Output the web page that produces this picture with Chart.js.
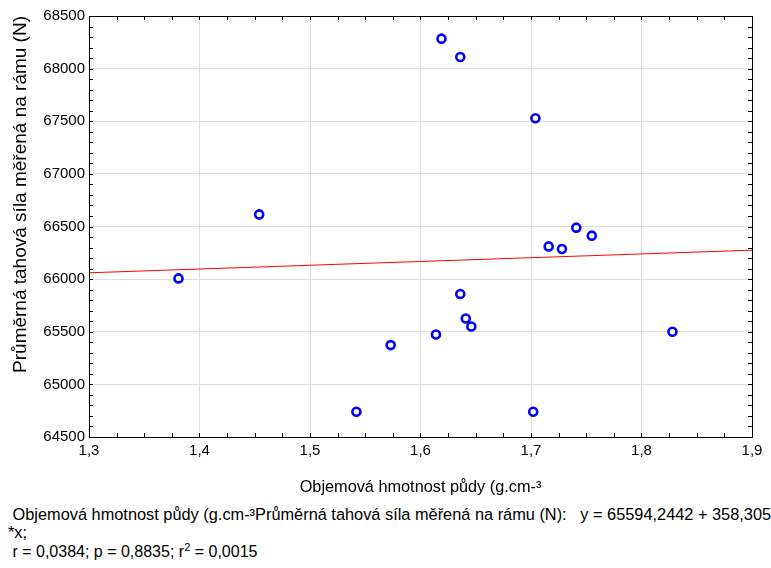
<!DOCTYPE html>
<html>
<head>
<meta charset="utf-8">
<script src="https://cdn.jsdelivr.net/npm/chart.js@4/dist/chart.umd.min.js"></script>
<style>
  body { margin: 0; background: #fff; width: 771px; height: 568px; overflow: hidden; position: relative; }
  #wrap { position: absolute; left: 0; top: 0; width: 771px; height: 500px; }
  .note { position: absolute; left: 8px; white-space: pre; font-family: "Liberation Sans", Arial, sans-serif; font-size: 16.35px; line-height: 19px; color: #000; }
</style>
</head>
<body>
<div id="wrap"><canvas id="chartScatter"></canvas></div>
<div class="note" style="top:505px"> Objemová hmotnost půdy (g.cm-³Průměrná tahová síla měřená na rámu (N):   y = 65594,2442 + 358,305</div>
<div class="note" style="top:523px">*x;</div>
<div class="note" style="top:542px; font-size:16px"> r = 0,0384; p = 0,8835; r<sup style="font-size:11px;line-height:0">2</sup> = 0,0015</div>
<script>
// bulk density (g.cm-3)
const xVals = [1.619, 1.636, 1.704, 1.454, 1.381, 1.636, 1.542, 1.573, 1.614, 1.641, 1.646, 1.702, 1.716, 1.728, 1.741, 1.755, 1.828];
// mean draught force (N)
const yVals = [68285, 68111, 67528, 66615, 66007, 65858, 64740, 65373, 65474, 65626, 65550, 64740, 66311, 66286, 66489, 66413, 65500];
// fitted line read at the axis ends
const fitX = [1.3, 1.9];
const fitY = [66060, 66275];

const xTicks = [1.3, 1.4, 1.5, 1.6, 1.7, 1.8, 1.9];
const yTicks = [64500, 65000, 65500, 66000, 66500, 67000, 67500, 68000, 68500];

Chart.defaults.font.family = "'Liberation Sans', Arial, sans-serif";
Chart.defaults.color = "#000";

// black box with small inward ticks on all four sides
const frame = {
  id: "frame",
  afterDraw(chart) {
    const { ctx, chartArea: a, scales } = chart;
    ctx.save();
    ctx.strokeStyle = "#000";
    ctx.lineWidth = 1;
    ctx.beginPath();
    for (let v = 1.3; v <= 1.9001; v += 0.025) {
      const px = Math.round(scales.x.getPixelForValue(v)) + 0.5;
      ctx.moveTo(px, a.bottom); ctx.lineTo(px, a.bottom - 4);
      ctx.moveTo(px, a.top); ctx.lineTo(px, a.top + 4);
    }
    for (let v = 64500; v <= 68500; v += 100) {
      const py = Math.round(scales.y.getPixelForValue(v)) + 0.5;
      ctx.moveTo(a.left, py); ctx.lineTo(a.left + 4, py);
      ctx.moveTo(a.right, py); ctx.lineTo(a.right - 4, py);
    }
    ctx.stroke();
    ctx.strokeRect(Math.round(a.left) + 0.5, Math.round(a.top) + 0.5,
      Math.round(a.right - a.left), Math.round(a.bottom - a.top));
    ctx.restore();
  },
};

const chartScatter = new Chart("chartScatter", {
  type: "scatter",
  data: {
    datasets: [
      {
        label: "data",
        data: xVals.map((x, i) => ({ x: x, y: yVals[i] })),
        pointRadius: 4,
        pointBorderWidth: 2.6,
        pointBorderColor: "#0000ff",
        pointBackgroundColor: "#fff",
        order: 1,
      },
      {
        type: "line",
        label: "fit",
        data: fitX.map((x, i) => ({ x: x, y: fitY[i] })),
        borderColor: "#ff0000",
        borderWidth: 1,
        pointRadius: 0,
        order: 2,
      },
    ],
  },
  options: {
    responsive: true,
    maintainAspectRatio: false,
    animation: false,
    layout: { padding: { top: 16, right: 19, left: 0, bottom: 0 } },
    plugins: {
      legend: { display: false },
      tooltip: { enabled: false },
    },
    scales: {
      x: {
        type: "linear",
        min: 1.3,
        max: 1.9,
        afterBuildTicks: (s) => { s.ticks = xTicks.map((v) => ({ value: v })); },
        afterFit: (s) => { s.height = 63; },
        ticks: {
          padding: 5,
          font: { size: 15 },
          callback: (v) => Number(v).toFixed(1).replace(".", ","),
        },
        grid: { color: "#dedede", drawTicks: false },
        border: { display: false },
        title: {
          display: true,
          text: "Objemová hmotnost půdy (g.cm-³",
          font: { size: 16.3 },
          padding: { top: 0, bottom: 3 },
        },
      },
      y: {
        type: "linear",
        min: 64500,
        max: 68500,
        afterBuildTicks: (s) => { s.ticks = yTicks.map((v) => ({ value: v })); },
        afterFit: (s) => { s.width = 89; },
        ticks: {
          padding: 4,
          font: { size: 15 },
          callback: (v) => String(v),
        },
        grid: { color: "#dedede", drawTicks: false },
        border: { display: false },
        title: {
          display: true,
          text: "Průměrná tahová síla měřená na rámu (N)",
          align: "end",
          font: { size: 19 },
          padding: { top: 9, bottom: 0 },
        },
      },
    },
  },
  plugins: [frame],
});
</script>
</body>
</html>
